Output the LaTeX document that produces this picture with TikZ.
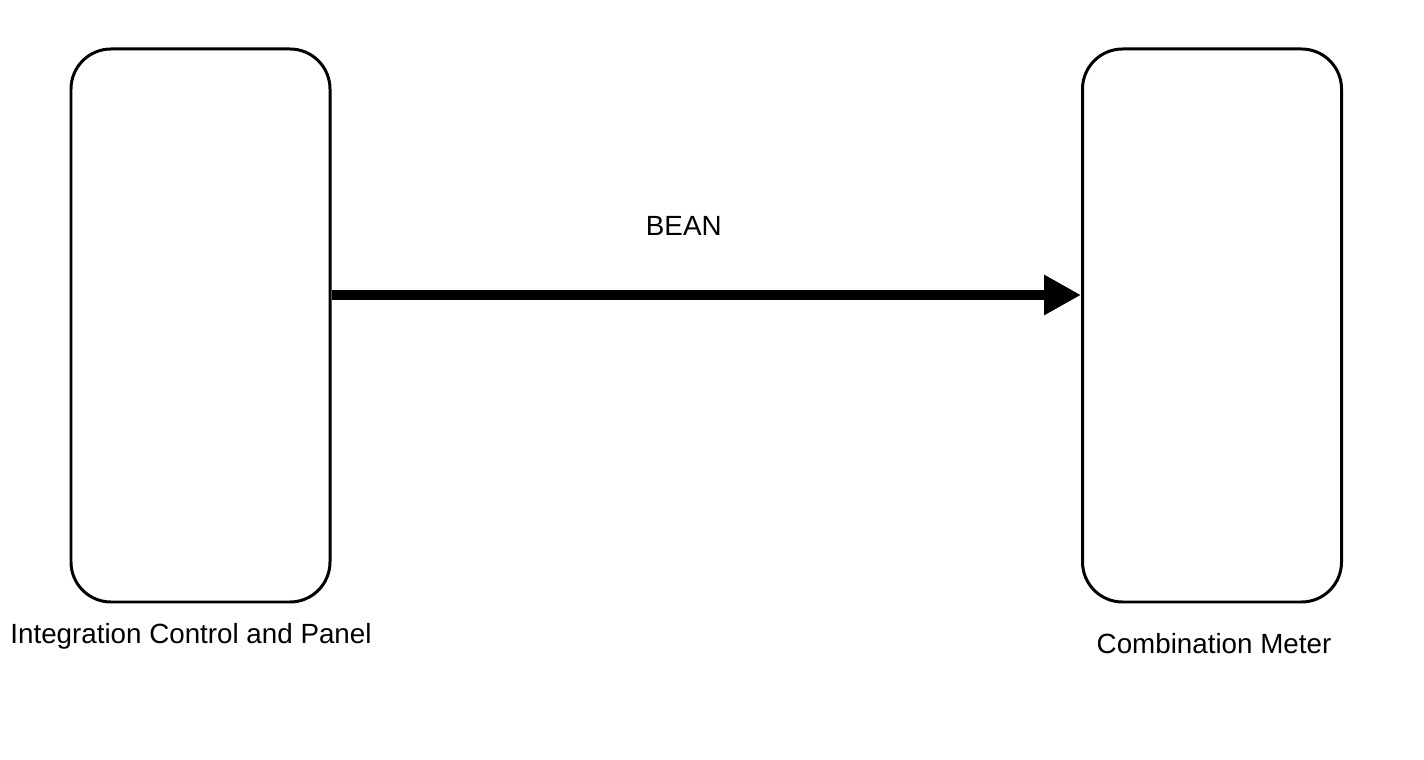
\documentclass[tikz,border=0pt]{standalone}
\usepackage{fontspec}
\setmainfont{Liberation Sans}
\usetikzlibrary{arrows.meta, positioning}

\begin{document}
\begin{tikzpicture}[>={Triangle[length=3.7mm,width=3.8mm]},
      every node/.style={font=\fontsize{7.9}{9.5}\selectfont},
      ecu/.style={draw,line width=0.85pt,rounded corners=0.4cm,
        minimum width=2.59cm,minimum height=5.53cm,inner sep=0pt},
      bus/.style={->,line width=2.6pt}]
      \useasboundingbox (0,0) rectangle (14.24,7.59);
      \node[ecu] (icp) at (2.005,4.335) {};
      \node[ecu] (meter) at (12.12,4.335) {};
      \node (icplabel) at (1.91,1.23) {Integration Control and Panel};
      \node (meterlabel) at (12.14,1.15) {Combination Meter};
      \draw[bus] ([yshift=3.05mm]icp.east) -- ([yshift=3.05mm]meter.west)
        node [pos=0.47,above=0.43cm] {BEAN};
    \end{tikzpicture}
\end{document}
